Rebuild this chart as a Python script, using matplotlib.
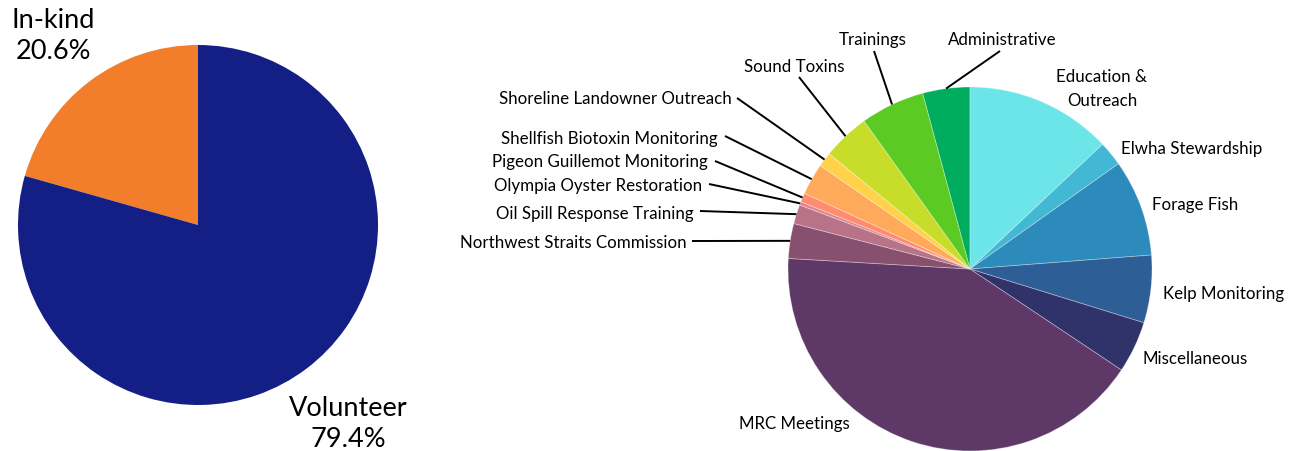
import numpy as np
import matplotlib.pyplot as plt

plt.rcParams['font.family'] = ['Lato', 'DejaVu Sans']

# Left pie: volunteer vs in-kind
fund_names = ['In-kind', 'Volunteer']
fund_pct = [20.6, 79.4]
fund_colors = ['#F27E2C', '#131F85']

# Right pie: hours by project (percent)
projects = ['Administrative', 'Education &\nOutreach', 'Elwha Stewardship', 'Forage Fish',
            'Kelp Monitoring', 'Miscellaneous', 'MRC Meetings', 'Northwest Straits Commission',
            'Oil Spill Response Training', 'Olympia Oyster Restoration',
            'Pigeon Guillemot Monitoring', 'Shellfish Biotoxin Monitoring',
            'Shoreline Landowner Outreach', 'Sound Toxins', 'Trainings']
project_pct = [4.2, 13.0, 2.2, 8.6, 6.0, 4.6, 41.6, 3.1, 1.7, 0.3, 0.8, 2.8, 1.3, 4.2, 5.7]
project_colors = ['#00AD5F', '#6BE5E8', '#42B8D4', '#2C8BBA', '#2E5E96', '#30336A', '#5E3866',
                  '#88506F', '#B87388', '#E0868C', '#FF8C6E', '#FFAA5A', '#FFD24A', '#C8DD2A',
                  '#5BCA22']

# label layout in pixel coords (x, y from top), alignment, leader line start (or None)
label_pos = [(1002, 38), (1102, 87), (1121, 147), (1152, 203), (1163, 292), (1142, 357),
             (794, 422), (687, 241), (694, 212), (702, 184), (708, 160), (718, 137),
             (732, 97), (794, 65), (873, 38)]
label_ha = ['center', 'center', 'left', 'left', 'left', 'left', 'center', 'right', 'right',
            'right', 'right', 'right', 'right', 'center', 'center']
line_from = [(1000, 52), None, None, None, None, None, None, (692, 242), (700, 212),
             (709, 185), (715, 162), (725, 137), (737, 99), (799, 78), (874, 52)]

W, H = 1290, 452
fig = plt.figure(figsize=(W / 100, H / 100), dpi=100)
ax = fig.add_axes([0, 0, 1, 1])


def px(x, y):
    # pixel position measured from the top-left -> data coords
    return x, H - y


# left pie
ax.pie(fund_pct, colors=fund_colors, startangle=90, counterclock=True,
       center=px(198, 226), radius=180, wedgeprops=dict(linewidth=0))
ax.text(*px(53, 36), f'{fund_names[0]}\n{fund_pct[0]:.1f}%', ha='center', va='center',
        fontsize=19.5, linespacing=1.34)
ax.text(*px(348, 424), f'{fund_names[1]}\n{fund_pct[1]:.1f}%', ha='center', va='center',
        fontsize=19.5, linespacing=1.34)

# right pie
start = 90 + project_pct[0] / sum(project_pct) * 360
cx, cy = px(970, 270)
r = 182
wedges, _ = ax.pie(project_pct, colors=project_colors, startangle=start, counterclock=False,
                   center=(cx, cy), radius=r,
                   wedgeprops=dict(linewidth=0.6, edgecolor=(1, 1, 1, 0.35)))

for w, name, pos, ha, lf in zip(wedges, projects, label_pos, label_ha, line_from):
    ax.text(pos[0], H - pos[1] - 2, name, ha=ha, va='center', fontsize=12.2, linespacing=1.6)
    if lf is not None:
        mid = np.deg2rad((w.theta1 + w.theta2) / 2)
        ex, ey = cx + r * np.cos(mid), cy + r * np.sin(mid)
        sx, sy = px(*lf)
        ax.plot([sx, ex], [sy, ey], color='black', linewidth=1.4, solid_capstyle='butt')

ax.set_xlim(0, W)
ax.set_ylim(0, H)
ax.set_aspect('equal')
ax.axis('off')

plt.savefig('out.png', dpi=100)
